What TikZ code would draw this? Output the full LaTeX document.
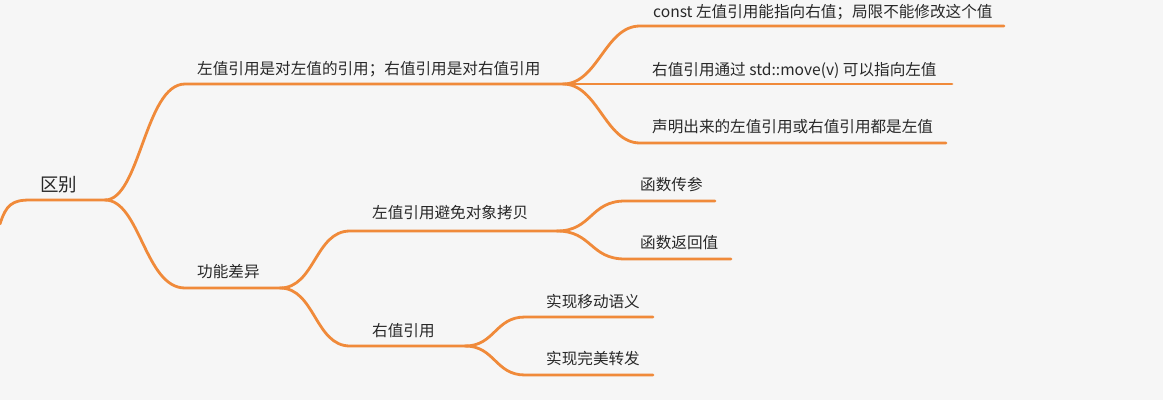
\documentclass[tikz,border=0pt]{standalone}
\usepackage{fontspec}
\setmainfont{Noto Sans CJK SC}
\definecolor{branch}{RGB}{240,138,58}
\definecolor{bg}{RGB}{246,246,246}
\definecolor{txt}{RGB}{40,40,40}
\begin{document}
\begin{tikzpicture}[x=1pt,y=-1pt,
  topic/.style={anchor=west,inner sep=0pt,font=\fontsize{15.6}{16}\selectfont,text=txt},
  roottopic/.style={topic,font=\fontsize{18.5}{20}\selectfont},
  edge/.style={draw=branch,line width=2.8pt,line cap=round}]
\fill[bg] (0,0) rectangle (1163,400);
\useasboundingbox (0,0) rectangle (1163,400);
% coordinates (start / end of underlines)
\coordinate (rootS) at (0,224);
\coordinate (rootE) at (105,200);
\coordinate (aS) at (185,84);  \coordinate (aE) at (563,84);
\coordinate (a1S) at (640,26); \coordinate (a1E) at (1004,26);
\coordinate (a2E) at (952,84);
\coordinate (a3S) at (640,143); \coordinate (a3E) at (946,143);
\coordinate (bS) at (185,288); \coordinate (bE) at (280,288);
\coordinate (b1S) at (350,231); \coordinate (b1E) at (557,231);
\coordinate (b11S) at (625,201); \coordinate (b11E) at (715,201);
\coordinate (b12S) at (625,259); \coordinate (b12E) at (731,259);
\coordinate (b2S) at (350,346); \coordinate (b2E) at (465,346);
\coordinate (b21S) at (525,317); \coordinate (b21E) at (653,317);
\coordinate (b22S) at (525,375); \coordinate (b22E) at (653,375);
% texts
\node[roottopic] (root) at (40,185) {区别};
\node[topic] (a) at (197,69) {左值引用是对左值的引用；右值引用是对右值引用};
\node[topic] (a1) at (653,12) {const 左值引用能指向右值；局限不能修改这个值};
\node[topic] (a2) at (652,70) {右值引用通过 std::move(v) 可以指向左值};
\node[topic] (a3) at (652,127) {声明出来的左值引用或右值引用都是左值};
\node[topic] (b) at (197,272) {功能差异};
\node[topic] (b1) at (372,213) {左值引用避免对象拷贝};
\node[topic] (b11) at (640,185) {函数传参};
\node[topic] (b12) at (640,243) {函数返回值};
\node[topic] (b2) at (372,331) {右值引用};
\node[topic] (b21) at (546,302) {实现移动语义};
\node[topic] (b22) at (546,359) {实现完美转发};
% connectors
\draw[edge] (rootS) .. controls (6,205) and (12,200) .. (30,200) -- (rootE);
\draw[edge] (rootE) .. controls (140,200) and (145,84) .. (aS) -- (aE);
\draw[edge] (rootE) .. controls (140,200) and (145,288) .. (bS) -- (bE);
\draw[edge] (aE) .. controls (598,84) and (605,26) .. (a1S) -- (a1E);
\draw[edge] (aE) -- (a2E);
\draw[edge] (aE) .. controls (598,84) and (605,143) .. (a3S) -- (a3E);
\draw[edge] (bE) .. controls (315,288) and (315,231) .. (b1S) -- (b1E);
\draw[edge] (bE) .. controls (315,288) and (315,346) .. (b2S) -- (b2E);
\draw[edge] (b1E) .. controls (592,231) and (590,201) .. (b11S) -- (b11E);
\draw[edge] (b1E) .. controls (592,231) and (590,259) .. (b12S) -- (b12E);
\draw[edge] (b2E) .. controls (495,346) and (495,317) .. (b21S) -- (b21E);
\draw[edge] (b2E) .. controls (495,346) and (495,375) .. (b22S) -- (b22E);
\end{tikzpicture}
\end{document}
